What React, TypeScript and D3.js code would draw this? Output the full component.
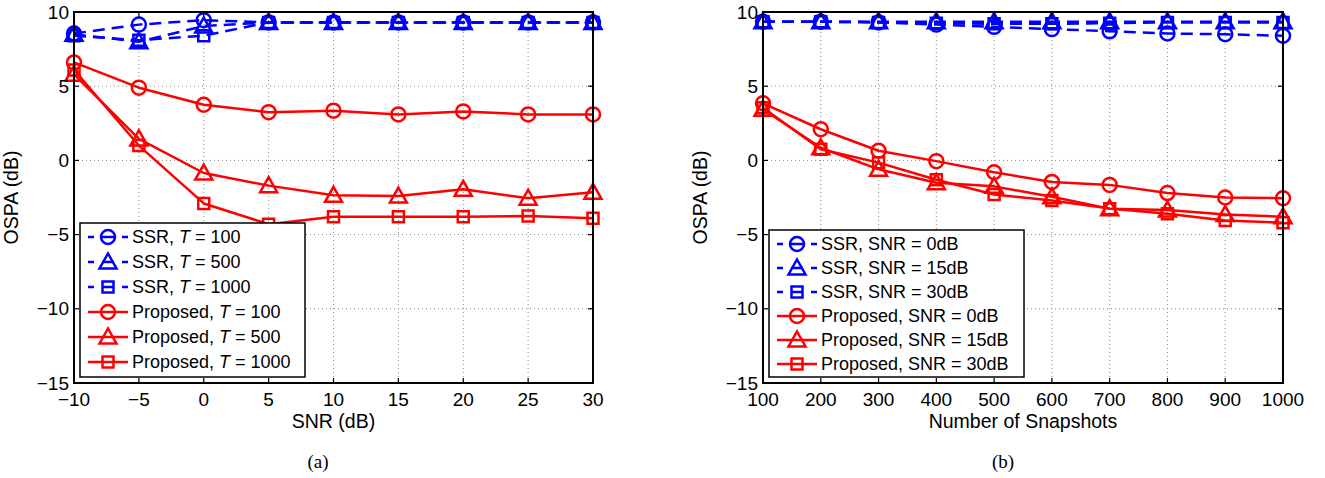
import React, { useEffect, useRef } from 'react';
import * as d3 from 'd3';

// ---- data ----
const snr = [-10, -5, 0, 5, 10, 15, 20, 25, 30];
const ssrT100 = [8.55, 9.15, 9.45, 9.3, 9.3, 9.3, 9.3, 9.3, 9.3];
const ssrT500 = [8.5, 8.0, 9.05, 9.3, 9.3, 9.3, 9.3, 9.3, 9.3];
const ssrT1000 = [8.4, 8.1, 8.4, 9.3, 9.3, 9.3, 9.3, 9.3, 9.3];
const propT100 = [6.6, 4.9, 3.75, 3.25, 3.35, 3.1, 3.3, 3.1, 3.1];
const propT500 = [5.8, 1.45, -0.85, -1.7, -2.35, -2.4, -1.95, -2.55, -2.15];
const propT1000 = [6.1, 1.0, -2.9, -4.3, -3.8, -3.8, -3.8, -3.75, -3.9];

const snapshots = [100, 200, 300, 400, 500, 600, 700, 800, 900, 1000];
const ssrS0 = [9.35, 9.35, 9.3, 9.15, 9.0, 8.85, 8.7, 8.55, 8.5, 8.4];
const ssrS15 = [9.35, 9.35, 9.35, 9.35, 9.35, 9.35, 9.35, 9.35, 9.35, 9.35];
const ssrS30 = [9.35, 9.35, 9.3, 9.25, 9.2, 9.2, 9.25, 9.3, 9.3, 9.3];
const propS0 = [3.85, 2.1, 0.65, -0.05, -0.8, -1.45, -1.65, -2.2, -2.5, -2.55];
const propS15 = [3.45, 0.85, -0.6, -1.5, -1.75, -2.45, -3.25, -3.35, -3.65, -3.8];
const propS30 = [3.55, 0.75, -0.15, -1.3, -2.3, -2.7, -3.25, -3.6, -4.05, -4.2];

const yTicks = [-15, -10, -5, 0, 5, 10];

const legendA = ['SSR, T = 100', 'SSR, T = 500', 'SSR, T = 1000', 'Proposed, T = 100', 'Proposed, T = 500', 'Proposed, T = 1000'];
const legendB = ['SSR, SNR = 0dB', 'SSR, SNR = 15dB', 'SSR, SNR = 30dB', 'Proposed, SNR = 0dB', 'Proposed, SNR = 15dB', 'Proposed, SNR = 30dB'];

const BLUE = '#0000ff';
const RED = '#ff0000';
const FONT = '"Liberation Sans", Arial, Helvetica, sans-serif';
const minus = (v: number) => String(v).replace('-', '\u2212');

type Marker = 'circle' | 'triangle' | 'square';

function markerPath(m: Marker) {
  if (m === 'circle') return d3.arc()({ innerRadius: 0, outerRadius: 7, startAngle: 0, endAngle: 2 * Math.PI }) as string;
  if (m === 'triangle') return 'M0,-8.5L8.5,6.5L-8.5,6.5Z';
  return 'M-5.5,-5.5H5.5V5.5H-5.5Z';
}

function drawPanel(root: any, cfg: any) {
  const { left, right, top, bottom, xDomain, xTicks, series, legend, xlabel, caption, captionX, legendBox } = cfg;
  const x = d3.scaleLinear().domain(xDomain).range([left, right]);
  const y = d3.scaleLinear().domain([-15, 10]).range([bottom, top]);
  const g = root.append('g');

  // grid
  g.selectAll('.vg').data(xTicks.slice(1, -1)).enter().append('line')
    .attr('x1', (d: number) => x(d)).attr('x2', (d: number) => x(d))
    .attr('y1', top).attr('y2', bottom)
    .attr('stroke', '#888').attr('stroke-width', 1).attr('stroke-dasharray', '1,3');
  g.selectAll('.hg').data(yTicks.slice(1, -1)).enter().append('line')
    .attr('x1', left).attr('x2', right)
    .attr('y1', (d: number) => y(d)).attr('y2', (d: number) => y(d))
    .attr('stroke', '#888').attr('stroke-width', 1).attr('stroke-dasharray', '1,3');

  // series
  const line = d3.line<number>().x((_d, i) => x(xTicks[i])).y(d => y(d));
  series.forEach((s: any) => {
    g.append('path').attr('d', line(s.values)).attr('fill', 'none')
      .attr('stroke', s.color).attr('stroke-width', 2.5)
      .attr('stroke-dasharray', s.dashed ? '12,7' : null)
      .attr('stroke-linejoin', 'round');
  });
  series.forEach((s: any) => {
    g.selectAll(null).data(s.values).enter().append('path')
      .attr('d', markerPath(s.marker))
      .attr('transform', (d: number, i: number) => `translate(${x(xTicks[i])},${y(d)})`)
      .attr('fill', 'none').attr('stroke', s.color).attr('stroke-width', 2.5);
  });

  // box + ticks
  g.append('rect').attr('x', left).attr('y', top).attr('width', right - left).attr('height', bottom - top)
    .attr('fill', 'none').attr('stroke', '#000').attr('stroke-width', 2);
  xTicks.forEach((t: number) => {
    g.append('line').attr('x1', x(t)).attr('x2', x(t)).attr('y1', bottom).attr('y2', bottom - 5).attr('stroke', '#000').attr('stroke-width', 1.2);
    g.append('line').attr('x1', x(t)).attr('x2', x(t)).attr('y1', top).attr('y2', top + 5).attr('stroke', '#000').attr('stroke-width', 1.2);
    g.append('text').attr('x', x(t)).attr('y', bottom + 23).attr('text-anchor', 'middle')
      .attr('font-family', FONT).attr('font-size', 19).text(minus(t));
  });
  yTicks.forEach((t: number) => {
    g.append('line').attr('x1', left).attr('x2', left + 5).attr('y1', y(t)).attr('y2', y(t)).attr('stroke', '#000').attr('stroke-width', 1.2);
    g.append('line').attr('x1', right).attr('x2', right - 5).attr('y1', y(t)).attr('y2', y(t)).attr('stroke', '#000').attr('stroke-width', 1.2);
    g.append('text').attr('x', left - 5).attr('y', y(t)).attr('dy', '0.35em').attr('text-anchor', 'end')
      .attr('font-family', FONT).attr('font-size', 19).text(minus(t));
  });

  // axis titles
  g.append('text').attr('x', (left + right) / 2).attr('y', bottom + 45).attr('text-anchor', 'middle')
    .attr('font-family', FONT).attr('font-size', 19.5).text(xlabel);
  g.append('text').attr('transform', `translate(${left - 56},${(top + bottom) / 2}) rotate(-90)`)
    .attr('text-anchor', 'middle').attr('font-family', FONT).attr('font-size', 19.5).text('OSPA (dB)');
  g.append('text').attr('x', captionX).attr('y', 468).attr('text-anchor', 'middle')
    .attr('font-family', '"Liberation Serif", "Times New Roman", serif').attr('font-size', 19).text(caption);

  // legend
  const lb = legendBox;
  const lg = g.append('g');
  lg.append('rect').attr('x', lb.x).attr('y', lb.y).attr('width', lb.w).attr('height', lb.h)
    .attr('fill', '#fff').attr('stroke', '#000').attr('stroke-width', 1.5);
  series.forEach((s: any, i: number) => {
    const cy = lb.y + lb.first + i * lb.step;
    const lx = lb.x + 8;
    lg.append('line').attr('x1', lx).attr('x2', lx + 40).attr('y1', cy).attr('y2', cy)
      .attr('stroke', s.color).attr('stroke-width', 2.5).attr('stroke-dasharray', s.dashed ? '6,8,12,8,6' : null);
    lg.append('path').attr('d', markerPath(s.marker)).attr('transform', `translate(${lx + 20},${cy})`)
      .attr('fill', 'none').attr('stroke', s.color).attr('stroke-width', 2.5);
    const parts = legend[i].split(/(T)(?= =)/);
    const t = lg.append('text').attr('x', lx + 44).attr('y', cy).attr('dy', '0.36em')
      .attr('font-family', FONT).attr('font-size', 18);
    parts.forEach((p: string) => {
      if (p === '') return;
      t.append('tspan').attr('font-style', p === 'T' ? 'italic' : null).text(p);
    });
  });
}

export default function App() {
  const ref = useRef<SVGSVGElement>(null);
  useEffect(() => {
    const svg = d3.select(ref.current);
    svg.selectAll('*').remove();
    const mk = (vals: number[][]) => [
      { values: vals[0], color: BLUE, dashed: true, marker: 'circle' },
      { values: vals[1], color: BLUE, dashed: true, marker: 'triangle' },
      { values: vals[2], color: BLUE, dashed: true, marker: 'square' },
      { values: vals[3], color: RED, dashed: false, marker: 'circle' },
      { values: vals[4], color: RED, dashed: false, marker: 'triangle' },
      { values: vals[5], color: RED, dashed: false, marker: 'square' },
    ];
    drawPanel(svg, {
      left: 74, right: 593, top: 12, bottom: 383,
      xDomain: [-10, 30], xTicks: snr,
      series: mk([ssrT100, ssrT500, ssrT1000, propT100, propT500, propT1000]),
      legend: legendA, xlabel: 'SNR (dB)', caption: '(a)', captionX: 318,
      legendBox: { x: 80, y: 223, w: 225, h: 154, first: 14, step: 25 },
    });
    drawPanel(svg, {
      left: 763, right: 1283, top: 12, bottom: 383,
      xDomain: [100, 1000], xTicks: snapshots,
      series: mk([ssrS0, ssrS15, ssrS30, propS0, propS15, propS30]),
      legend: legendB, xlabel: 'Number of Snapshots', caption: '(b)', captionX: 1003,
      legendBox: { x: 769, y: 230, w: 255, h: 147, first: 14, step: 24 },
    });
  }, []);
  return (
    <svg ref={ref} width={1325} height={478}
      style={{ position: 'absolute', left: 0, top: 0, background: '#fff' }} />
  );
}
